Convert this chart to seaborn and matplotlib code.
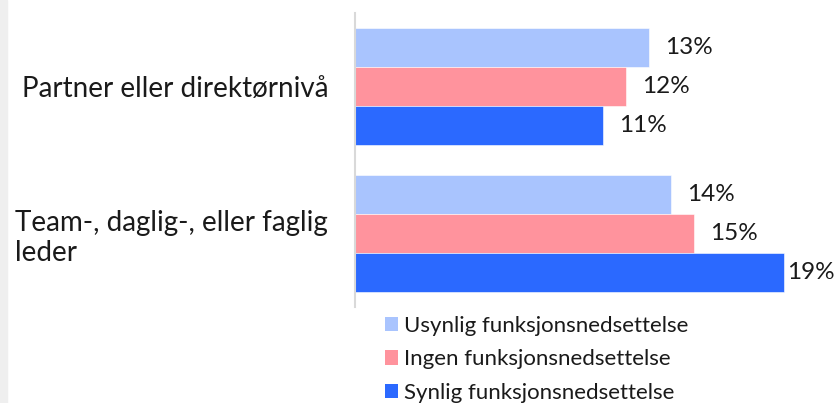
import matplotlib
matplotlib.use("Agg")
import matplotlib.pyplot as plt
import seaborn as sns
import pandas as pd
from matplotlib.patches import Rectangle, Patch

# data
categories = ["Partner eller direktørnivå", "Team-, daglig-, eller faglig\nleder"]
series_names = ["Usynlig funksjonsnedsettelse", "Ingen funksjonsnedsettelse", "Synlig funksjonsnedsettelse"]
usynlig = [13, 14]
ingen = [12, 15]
synlig = [11, 19]
colors = ["#A9C4FE", "#FF939D", "#2B69FF"]

rows = []
for name, vals in zip(series_names, [usynlig, ingen, synlig]):
    for cat, v in zip(categories, vals):
        rows.append({"kategori": cat, "gruppe": name, "verdi": v})
df = pd.DataFrame(rows)

sns.set_style("white")
plt.rcParams["font.family"] = ["Lato", "DejaVu Sans"]

fig = plt.figure(figsize=(8.35, 4.03), dpi=100)
ax = fig.add_axes([354.5 / 835, 1 - 307 / 403, 1 - 354.5 / 835, (307 - 13) / 403])

# light grey strip on the left edge
fig.patches.append(Rectangle((0, 0), 7 / 835, 1, transform=fig.transFigure,
                             color="#EFEFEF", zorder=0))

sns.barplot(data=df, y="kategori", x="verdi", hue="gruppe", orient="h",
            palette=colors, width=0.79, gap=0, legend=False, ax=ax,
            saturation=1, edgecolor="white", linewidth=0.4)

px = 22.63  # pixels per percentage point
xmax = (835 - 354.5) / px
ax.set_xlim(0, xmax)
ax.set_ylim(1.5, -0.5)

# value labels
for container in ax.containers:
    for bar in container:
        v = bar.get_width()
        yc = bar.get_y() + bar.get_height() / 2
        x = min(v + 16 / px, xmax - 48 / px)
        ax.text(x, yc, f"{v:.0f}%", va="center", ha="left", fontsize=17.5, color="#1a1a1a")

ax.set_xlabel("")
ax.set_ylabel("")
ax.set_xticks([])
ax.tick_params(axis="y", length=0, pad=19)
for lbl in ax.get_yticklabels():
    lbl.set_fontsize(20)
    lbl.set_color("#1a1a1a")
    lbl.set_multialignment("left")
    lbl.set_linespacing(1.2)

for s in ["top", "right", "bottom"]:
    ax.spines[s].set_visible(False)
ax.spines["left"].set_color("#D9D9D9")
ax.spines["left"].set_linewidth(1.5)

handles = [Patch(facecolor=c, edgecolor="none") for c in colors]
fig.legend(handles, series_names, loc="upper left", bbox_to_anchor=(385 / 835, 1 - 316 / 403),
           frameon=False, fontsize=16, handlelength=0.6, handleheight=0.6,
           handletextpad=0.25, labelspacing=0.6, borderpad=0, borderaxespad=0,
           labelcolor="#1a1a1a")

fig.savefig("out.png", dpi=100)
